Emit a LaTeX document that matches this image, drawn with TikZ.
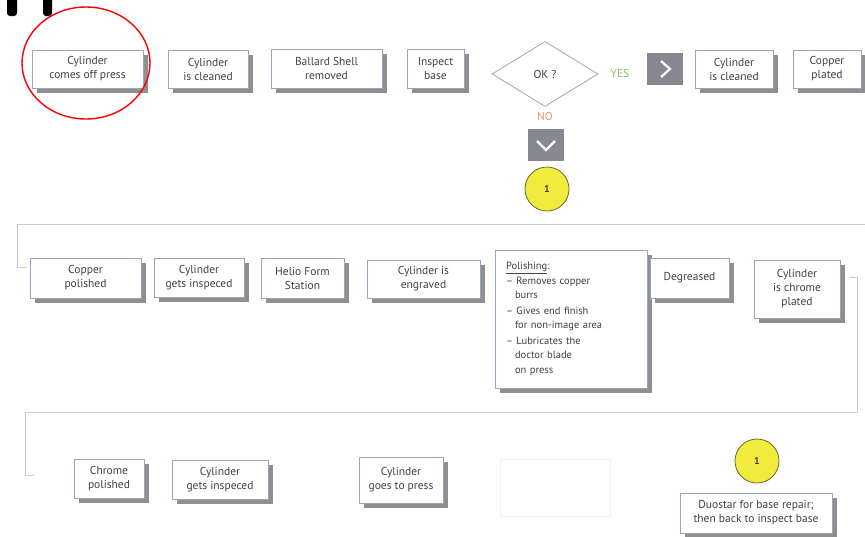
\documentclass[tikz,border=0pt]{standalone}
\usepackage{fontspec}
\setmainfont{PT Sans}
\usetikzlibrary{shapes.geometric}
\usetikzlibrary{shadows}
\definecolor{boxline}{RGB}{150,165,190}
\definecolor{txtgray}{RGB}{65,65,70}
\definecolor{chevgray}{RGB}{135,135,145}
\definecolor{dotyellow}{RGB}{240,235,60}
\definecolor{dotline}{RGB}{110,105,40}
\definecolor{bracketgray}{RGB}{200,200,205}
\definecolor{yesgreen}{RGB}{130,190,110}
\definecolor{noorange}{RGB}{230,150,110}
\tikzset{
  stepbox/.style={draw=boxline, fill=white, line width=0.8pt, align=center,
    text=txtgray, font=\fontsize{11.5}{14}\selectfont, inner sep=2pt,
    drop shadow={shadow xshift=5pt, shadow yshift=-5pt, fill=black!80, opacity=0.55}},
  chevbox/.style={fill=chevgray, minimum width=36pt, minimum height=32pt, inner sep=0pt},
  chev/.style={white, line width=2.2pt},
  numdot/.style={circle, draw=dotline, fill=dotyellow, line width=0.8pt,
    minimum size=44pt, inner sep=0pt, text=txtgray, font=\bfseries},
  bracket/.style={bracketgray, line width=0.8pt}
}

\begin{document}
\begin{tikzpicture}[x=1pt,y=-1pt]
\useasboundingbox[fill=white] (0,0) rectangle (865,536);

\fill[rounded corners=3pt] (7,-5) rectangle (17,16);
\fill[rounded corners=3pt] (43,-5) rectangle (52,16);

\node[stepbox, minimum width=111pt, minimum height=38pt] (off) at (87.5,69) {Cylinder\\comes off press};
\node[stepbox, minimum width=80pt, minimum height=38pt] (clean) at (208,69) {Cylinder\\is cleaned};
\node[stepbox, minimum width=111pt, minimum height=39pt] (shell) at (326.5,68.5) {Ballard Shell\\removed};
\node[stepbox, minimum width=57pt, minimum height=39pt] (inspect) at (435.5,68.5) {Inspect\\base};
\draw[red, line width=1.4pt] (86,63) ellipse (64 and 56);

\node[diamond, draw=black!35, line width=0.8pt, minimum width=106pt, minimum height=65pt,
  inner sep=0pt, aspect=1.6, text=txtgray, font=\fontsize{11.5}{14}\selectfont] (ok) at (545,74) {OK ?};
\node[text=yesgreen, font=\fontsize{11.5}{14}\selectfont] (yes) at (620,73) {YES};
\node[chevbox] (yesarrow) at (665,69) {};
\draw[chev] ([xshift=-4pt,yshift=8pt]yesarrow.center) -- ([xshift=5pt]yesarrow.center)
  -- ([xshift=-4pt,yshift=-8pt]yesarrow.center);
\node[stepbox, minimum width=78pt, minimum height=38pt] (clean2) at (734,69) {Cylinder\\is cleaned};
\node[stepbox, minimum width=68pt, minimum height=38pt] (copper) at (827,69) {Copper\\plated};

\node[text=noorange, font=\fontsize{11.5}{14}\selectfont] (no) at (545,116) {NO};
\node[chevbox] (noarrow) at (546,145) {};
\draw[chev] ([xshift=-9pt,yshift=4pt]noarrow.center) -- ([yshift=-5pt]noarrow.center)
  -- ([xshift=9pt,yshift=4pt]noarrow.center);
\node[numdot] (one) at (547,189) {1};

\coordinate (ta) at (865,224);
\coordinate (tb) at (17,224);
\coordinate (tc) at (17,267);
\coordinate (td) at (27,267);
\draw[bracket] (ta) -- (tb) -- (tc) -- (td);

\node[stepbox, minimum width=111pt, minimum height=40pt] (cpol) at (85.5,278) {Copper\\polished};
\node[stepbox, minimum width=90pt, minimum height=39pt] (insp) at (199,277.5) {Cylinder\\gets inspeced};
\node[stepbox, minimum width=83pt, minimum height=40pt] (helio) at (302.5,278) {Helio Form\\Station};
\node[stepbox, minimum width=113pt, minimum height=38pt] (engr) at (423.5,279) {Cylinder is\\engraved};
\node[stepbox, minimum width=152pt, minimum height=138pt, align=left, text width=130pt,
  font=\fontsize{10.5}{14.5}\selectfont] (polish) at (571,319)
  {\underline{Polishing}:\\[0pt]
   -- Removes copper\\
   \hspace*{9pt}burrs\\[1pt]
   -- Gives end finish\\
   \hspace*{9pt}for non-image area\\[1pt]
   -- Lubricates the\\
   \hspace*{9pt}doctor blade\\
   \hspace*{9pt}on press};
\node[stepbox, minimum width=79pt, minimum height=40pt] (degr) at (689.5,278) {Degreased};
\node[stepbox, minimum width=86pt, minimum height=58pt] (chrome) at (797,289) {Cylinder\\is chrome\\plated};

\coordinate (ba) at (850,277);
\coordinate (bb) at (857,277);
\coordinate (bc) at (857,412);
\coordinate (bd) at (25,412);
\coordinate (be) at (25,475);
\coordinate (bf) at (34,475);
\draw[bracket] (ba) -- (bb) -- (bc) -- (bd) -- (be) -- (bf);

\node[stepbox, minimum width=70pt, minimum height=39pt] (cpolish) at (109,478.5) {Chrome\\polished};
\node[stepbox, minimum width=96pt, minimum height=39pt] (insp2) at (220,479.5) {Cylinder\\gets inspeced};
\node[stepbox, minimum width=84pt, minimum height=46pt] (press) at (401,480) {Cylinder\\goes to press};
\node[draw=black!5, minimum width=110pt, minimum height=57pt] (blank) at (555,488) {};
\node[numdot] (onebis) at (757,461) {1};
\node[stepbox, minimum width=152pt, minimum height=40pt] (duo) at (756,513) {Duostar for base repair;\\then back to inspect base};
\end{tikzpicture}
\end{document}
